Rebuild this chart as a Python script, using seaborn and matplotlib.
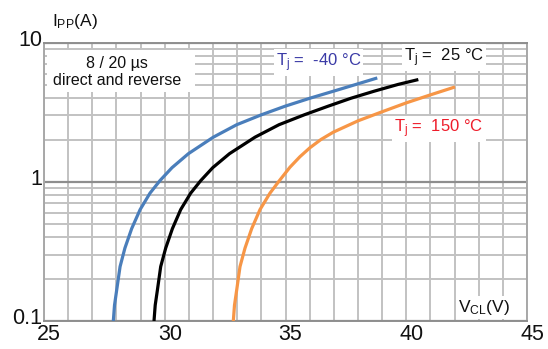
import matplotlib
matplotlib.use("Agg")
import matplotlib.pyplot as plt
import numpy as np
import pandas as pd
import seaborn as sns
from matplotlib.ticker import FixedLocator, LogLocator, NullFormatter
from matplotlib.transforms import ScaledTranslation
from matplotlib.patches import Rectangle

sns.set_theme(style="white")
plt.rcParams["font.family"] = ["Liberation Sans", "DejaVu Sans"]
plt.rcParams["mathtext.fontset"] = "custom"
plt.rcParams["mathtext.rm"] = "Liberation Sans"
plt.rcParams["mathtext.it"] = "Liberation Sans"
plt.rcParams["mathtext.bf"] = "Liberation Sans:bold"

# Clamping voltage (V) vs peak pulse current (A), 8/20 us pulse
v_m40 = [27.87, 27.92, 28.01, 28.15, 28.35, 28.63, 28.98, 29.39, 29.80, 30.30,
         30.98, 32.01, 32.98, 34.01, 34.98, 36.01, 36.98, 38.01, 38.80]
i_m40 = [0.1, 0.13, 0.167, 0.246, 0.334, 0.461, 0.632, 0.83, 1.02, 1.264,
         1.594, 2.094, 2.574, 3.037, 3.495, 3.99, 4.479, 5.07, 5.58]

v_25 = [29.555, 29.605, 29.696, 29.832, 30.039, 30.317, 30.66, 31.075, 31.489,
        31.986, 32.681, 33.737, 34.731, 35.787, 36.76, 37.712, 38.665, 39.658, 40.5]
i_25 = [0.1, 0.13, 0.167, 0.246, 0.334, 0.461, 0.632, 0.83, 1.02,
        1.264, 1.594, 2.094, 2.574, 3.037, 3.495, 3.99, 4.479, 5.011, 5.434]

v_150 = [32.839, 32.888, 32.979, 33.116, 33.323, 33.6, 33.944, 34.358, 34.731,
         35.186, 35.6, 36.014, 36.47, 36.979, 38.014, 38.983, 40.019, 41.017, 42.02]
i_150 = [0.1, 0.13, 0.167, 0.246, 0.334, 0.461, 0.632, 0.83, 1.012,
         1.275, 1.517, 1.76, 2.016, 2.275, 2.75, 3.181, 3.704, 4.227, 4.808]

series_names = ["-40", "25", "150"]
line_colors = {"-40": "#4a7ebb", "25": "#000000", "150": "#f79646"}

frames = []
for name, v, i in zip(series_names, [v_m40, v_25, v_150], [i_m40, i_25, i_150]):
    frames.append(pd.DataFrame({"V": v, "I": i, "Tj": name}))
df = pd.concat(frames, ignore_index=True)

fig = plt.figure(figsize=(5.48, 3.49), dpi=100)
ax = fig.add_axes([44 / 548, 1 - 321 / 349, 483 / 548, 278.3 / 349])
ax.set_yscale("log")
ax.set_xlim(25, 45)
ax.set_ylim(0.1, 10)

light = "#c2c2c2"
dark = "#8e8e8e"
ax.xaxis.set_major_locator(FixedLocator([25, 30, 35, 40, 45]))
ax.xaxis.set_minor_locator(FixedLocator(np.arange(25, 46, 1)))
ax.yaxis.set_major_locator(FixedLocator([0.1, 1, 10]))
ax.yaxis.set_minor_locator(LogLocator(base=10, subs=np.arange(2, 10)))
ax.yaxis.set_minor_formatter(NullFormatter())
ax.set_yticklabels(["0.1", "1", "10"])
ax.set_xticklabels(["25", "30", "35", "40", "45"])

ax.grid(which="both", axis="x", color=light, lw=1.4)
ax.grid(which="minor", axis="y", color=light, lw=1.4)
ax.grid(which="major", axis="y", color=dark, lw=1.6)
ax.set_axisbelow(True)
for s in ax.spines.values():
    s.set_color("#a8a8a8")
    s.set_linewidth(1.4)
ax.spines["bottom"].set_color(dark)
ax.spines["top"].set_color(dark)

ax.tick_params(which="both", length=0)
ax.tick_params(axis="y", labelsize=15.5, pad=1.5, colors="#111111")
ax.tick_params(axis="x", labelsize=15.5, pad=2.0, colors="#111111")
for lab in ax.get_yticklabels():
    lab.set_transform(lab.get_transform() + ScaledTranslation(0, 5 / 100, fig.dpi_scale_trans))
for lab in ax.get_xticklabels():
    lab.set_transform(lab.get_transform() + ScaledTranslation(5 / 100, 0, fig.dpi_scale_trans))

sns.lineplot(data=df, x="V", y="I", hue="Tj", palette=line_colors, sort=False,
             estimator=None, legend=False, lw=2.3, ax=ax, zorder=5)
for ln in ax.get_lines():
    ln.set_solid_capstyle("butt")
    ln.set_solid_joinstyle("round")
ax.set_xlabel("")
ax.set_ylabel("")

# Pulse condition note on a white panel
ax.add_patch(Rectangle((0.006, 0.823), 0.307, 0.151, transform=ax.transAxes,
                       facecolor="white", edgecolor="none", zorder=3))
ax.text(0.152, 0.895, "8 / 20 µs\ndirect and reverse", transform=ax.transAxes,
        ha="center", va="center", fontsize=11.5, linespacing=1.15,
        color="#111111", zorder=4)

# Curve labels
box = dict(facecolor="white", edgecolor="none", pad=1.5)
ax.text(36.37, 7.23, "T$_\\mathregular{j}$ =  -40 °C", ha="center", va="center",
        fontsize=12, color="#3a3aa6", bbox=box, zorder=4)
ax.text(41.56, 7.86, "T$_\\mathregular{j}$ =  25 °C", ha="center", va="center",
        fontsize=12, color="#111111", bbox=box, zorder=4)
ax.text(41.36, 2.39, "T$_\\mathregular{j}$ =  150 °C", ha="center", va="center",
        fontsize=12, color="#ee1c2a", bbox=box, zorder=4)

# Axis titles
ax.text(0.911, 0.05, "V$_\\mathregular{CL}$(V)", transform=ax.transAxes,
        ha="center", va="center", fontsize=12.5, color="#111111",
        bbox=dict(facecolor="white", edgecolor="none", pad=1.5), zorder=4)
fig.text(52 / 548, 1 - 26 / 349, "I$_\\mathregular{PP}$(A)", ha="left",
         va="baseline", fontsize=12.5, color="#111111")

fig.savefig("out.png", dpi=100)
